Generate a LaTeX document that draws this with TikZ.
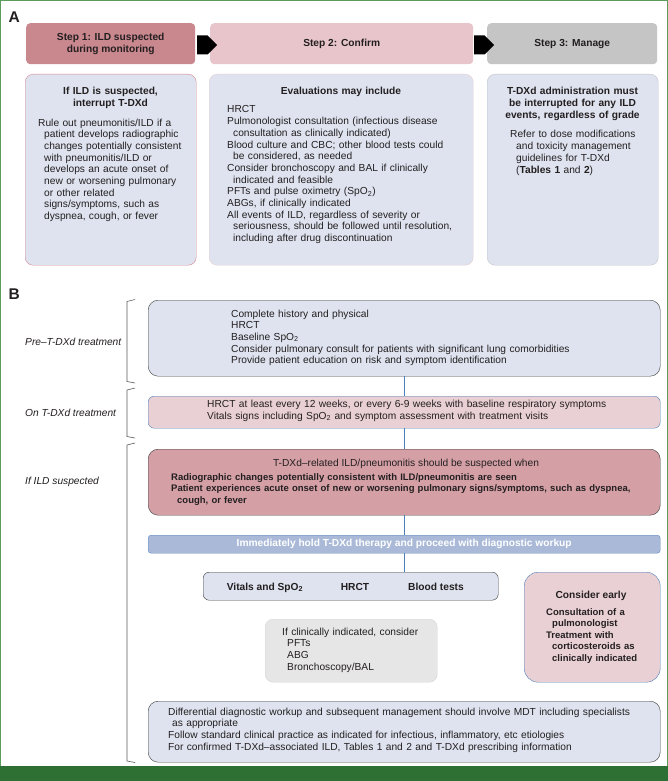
\documentclass[tikz,border=0pt]{standalone}
\usepackage{fontspec}
\setmainfont{Liberation Sans}
\definecolor{stepred}{HTML}{C9878E}
\definecolor{steppink}{HTML}{E8C5CA}
\definecolor{stepgray}{HTML}{C5C5C5}
\definecolor{paleblue}{HTML}{DEE3EF}
\definecolor{palepink}{HTML}{E9D0D4}
\definecolor{rosebox}{HTML}{D4A0A6}
\definecolor{barfill}{HTML}{A9B9D7}
\definecolor{barblue}{HTML}{5B89C0}
\definecolor{linkblue}{HTML}{4D80B8}
\definecolor{edge}{HTML}{3C3C3C}
\definecolor{pinkedge}{HTML}{D68893}
\definecolor{softedge}{HTML}{E8CDD1}
\definecolor{grayedge}{HTML}{C2C4CC}
\definecolor{grayfill}{HTML}{E6E6E6}
\definecolor{graybd}{HTML}{D6D6D6}
\definecolor{frame}{HTML}{5B9B5B}
\definecolor{band}{HTML}{2E6F33}
\definecolor{ink}{HTML}{231F20}
\newcommand{\indl}{\hspace*{6pt}}
\newcommand{\spo}{SpO\textsubscript{2}}

\begin{document}
\begin{tikzpicture}[x=1pt,y=-1pt,
	every node/.style={inner sep=0pt},
	box/.style={anchor=north west,rounded corners=#1,align=center,text=ink,font=\fontsize{10.2}{11.7}\selectfont\bfseries},
	body/.style={anchor=base west,text width=#1,align=left,text=ink,font=\fontsize{10.2}{11.7}\selectfont},
	head/.style={anchor=base,text width=#1,align=center,text=ink,font=\fontsize{10.2}{11.7}\selectfont\bfseries},
	strong/.style={font=\fontsize{9.5}{11.6}\selectfont\bfseries},
	item/.style={anchor=base,text=ink,font=\fontsize{10.2}{11.7}\selectfont\bfseries},
	side/.style={anchor=base west,text=ink,font=\fontsize{10.2}{11.7}\selectfont\itshape},
	panel/.style={anchor=base west,text=ink,font=\fontsize{15.5}{15.5}\selectfont\bfseries},
	link/.style={draw=linkblue,line width=0.9pt},
	brace/.style={draw=gray!70!black,line width=0.6pt}]
	\useasboundingbox (0,0) rectangle (668,781);
	\fill[white] (0,0) rectangle (668,781);
	\draw[frame,line width=2] (0,0) rectangle (668,767);
	\fill[band] (0,766) rectangle (668,781);

	\node[panel] (panela) at (8.5,23) {A};
	\node[box=4,fill=stepred,minimum width=169,minimum height=41] (stepone) at (26,23) {Step 1: ILD suspected\\during monitoring};
	\node[box=4,fill=steppink,minimum width=263,minimum height=41] (steptwo) at (210,23) {Step 2: Confirm};
	\node[box=4,fill=stepgray,minimum width=170,minimum height=41] (stepthree) at (487,23) {Step 3: Manage};
	\fill (197,35.5) -- (207.5,35.5) -- (217,45) -- (207.5,54.5) -- (197,54.5) -- cycle;
	\fill (474,35.5) -- (484.5,35.5) -- (494,45) -- (484.5,54.5) -- (474,54.5) -- cycle;

	\node[box=8,draw=pinkedge,fill=paleblue,minimum width=171,minimum height=191] (suspbox) at (25,74) {};
	\node[box=8,draw=softedge,fill=paleblue,minimum width=264,minimum height=191] (confbox) at (209,74) {};
	\node[box=8,draw=grayedge,fill=paleblue,minimum width=171,minimum height=191] (managebox) at (487,74) {};

	\node[head=165] (susptitle) at (110.5,95) {If ILD is suspected,\\interrupt T-DXd};
	\node[body=165] (susptx) at (38,126) {Rule out pneumonitis/ILD if a\\
		\indl patient develops radiographic\\
		\indl changes potentially consistent\\
		\indl with pneumonitis/ILD or\\
		\indl develops an acute onset of\\
		\indl new or worsening pulmonary\\
		\indl or other related\\
		\indl signs/symptoms, such as\\
		\indl dyspnea, cough, or fever};

	\node[head=250] (conftitle) at (341,95) {Evaluations may include};
	\node[body=245] (conftx) at (227,113) {HRCT\\
		Pulmonologist consultation (infectious disease\\
		\indl consultation as clinically indicated)\\
		Blood culture and CBC; other blood tests could\\
		\indl be considered, as needed\\
		Consider bronchoscopy and BAL if clinically\\
		\indl indicated and feasible\\
		PFTs and pulse oximetry (\spo)\\
		ABGs, if clinically indicated\\
		All events of ILD, regardless of severity or\\
		\indl seriousness, should be followed until resolution,\\
		\indl including after drug discontinuation};

	\node[head=165] (managetitle) at (572.5,95) {T-DXd administration must\\be interrupted for any ILD\\events, regardless of grade};
	\node[body=150] (managetx) at (510,138) {Refer to dose modifications\\
		\indl and toxicity management\\
		\indl guidelines for T-DXd\\
		\indl (\textbf{Tables 1} and \textbf{2})};

	\node[panel] (panelb) at (8.5,299) {B};
	\node[side] (prelabel) at (25,345) {Pre–T-DXd treatment};
	\node[side] (onlabel) at (25,416) {On T-DXd treatment};
	\node[side] (ildlabel) at (25,484.5) {If ILD suspected};
	\draw[brace] (135,299.5) -- (127,301.5) -- (127,381.5) -- (135,383);
	\draw[brace] (135,388) -- (127,390) -- (127,436.5) -- (135,438);
	\draw[brace] (135,443) -- (127,445) -- (127,761) -- (135,762.5);

	\node[box=10,draw=edge,fill=paleblue,minimum width=512,minimum height=76] (pre) at (148,300) {};
	\node[body=420] (pretx) at (231,317) {Complete history and physical\\
		HRCT\\
		Baseline \spo\\
		Consider pulmonary consult for patients with significant lung comorbidities\\
		Provide patient education on risk and symptom identification};

	\node[box=6,draw=linkblue,fill=palepink,minimum width=512,minimum height=32] (ontreat) at (148,396) {};
	\node[body=430] (ontx) at (207,407.5) {HRCT at least every 12 weeks, or every 6-9 weeks with baseline respiratory symptoms\\
		Vitals signs including \spo{} and symptom assessment with treatment visits};

	\node[box=10,draw=edge,fill=rosebox,minimum width=512,minimum height=66] (suspect) at (148,449) {};
	\node[anchor=base,text=ink,font=\fontsize{10.2}{11.7}\selectfont] (suspecttitle) at (406,466) {T-DXd–related ILD/pneumonitis should be suspected when};
	\node[body=485,strong] (suspecttx) at (171,480) {Radiographic changes potentially consistent with ILD/pneumonitis are seen\\
		Patient experiences acute onset of new or worsening pulmonary signs/symptoms, such as dyspnea,\\
		\indl cough, or fever};

	\node[box=3,draw=barblue,fill=barfill,text=white,minimum width=512,minimum height=18] (hold) at (148,535) {Immediately hold T-DXd therapy and proceed with diagnostic workup};

	\node[box=6,draw=edge,fill=paleblue,minimum width=295,minimum height=28] (vitals) at (203,572) {};
	\node[item] (vitalstx) at (265,590) {Vitals and \spo};
	\node[item] (hrcttx) at (355,590) {HRCT};
	\node[item] (bloodtx) at (436,590) {Blood tests};

	\node[box=14,draw=linkblue,fill=palepink,minimum width=136,minimum height=110] (early) at (524,572) {};
	\node[item] (earlytitle) at (591,598) {Consider early};
	\node[body=110,strong] (earlytx) at (546,615) {Consultation of a\\
		\indl pulmonologist\\
		Treatment with\\
		\indl corticosteroids as\\
		\indl clinically indicated};

	\node[box=8,draw=graybd,fill=grayfill,minimum width=172,minimum height=63] (optional) at (265,619) {};
	\node[body=160] (optionaltx) at (282,635) {If clinically indicated, consider\\
		\hspace*{5pt}PFTs\\
		\hspace*{5pt}ABG\\
		\hspace*{5pt}Bronchoscopy/BAL};

	\node[box=10,draw=edge,fill=paleblue,minimum width=512,minimum height=61] (workup) at (148,701) {};
	\node[body=485] (workuptx) at (168,715) {Differential diagnostic workup and subsequent management should involve MDT including specialists\\
		\hspace*{4pt}as appropriate\\
		Follow standard clinical practice as indicated for infectious, inflammatory, etc etiologies\\
		For confirmed T-DXd–associated ILD, Tables 1 and 2 and T-DXd prescribing information};

	\coordinate (spine) at (404,0);
	\draw[link] (pre.south -| spine) -- (ontreat.north -| spine);
	\draw[link] (ontreat.south -| spine) -- (suspect.north -| spine);
	\draw[link] (suspect.south -| spine) -- (hold.north -| spine);
	\draw[link] (hold.south -| spine) -- (vitals.north -| spine);
\end{tikzpicture}
\end{document}
